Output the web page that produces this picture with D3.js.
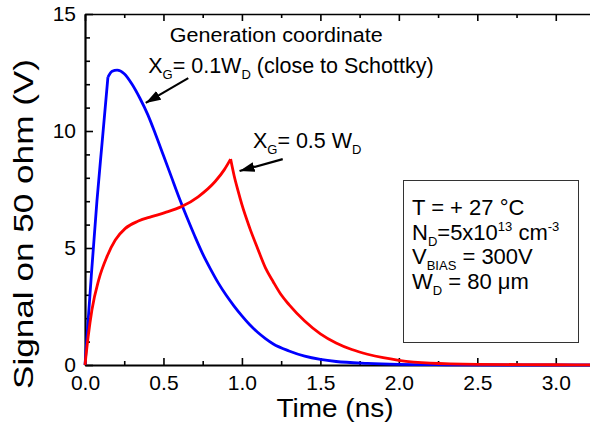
<!DOCTYPE html>
<html>
<head>
<meta charset="utf-8">
<script src="https://cdn.jsdelivr.net/npm/d3@7"></script>
<style>
  body { margin: 0; background: #fff; }
  text { font-family: "Liberation Sans", Arial, sans-serif; }
</style>
</head>
<body>
<script>
// values (time in ns, signal in V)
const blueTime = [0, 0.04, 0.076, 0.109, 0.146, 0.173, 0.205, 0.25, 0.3, 0.35, 0.4, 0.45, 0.5, 0.55, 0.6, 0.65, 0.7, 0.75, 0.8, 0.85, 0.9, 0.95, 1.0, 1.05, 1.1, 1.15, 1.2, 1.3, 1.4, 1.5, 1.6, 1.8, 2.0, 2.3, 2.7, 3.25];
const blueSignal = [0, 3.8, 7.0, 9.5, 12.3, 12.55, 12.6, 12.45, 12.0, 11.4, 10.7, 9.85, 8.95, 8.05, 7.15, 6.3, 5.5, 4.75, 4.1, 3.5, 2.98, 2.52, 2.1, 1.72, 1.4, 1.13, 0.9, 0.6, 0.38, 0.24, 0.15, 0.07, 0.03, 0.01, 0, 0];
const blueKink = 4;

const redTime = [0, 0.02, 0.044, 0.087, 0.14, 0.193, 0.257, 0.34, 0.424, 0.509, 0.616, 0.721, 0.828, 0.888, 0.928, 0.95, 0.975, 1.0, 1.05, 1.1, 1.15, 1.2, 1.25, 1.3, 1.4, 1.5, 1.6, 1.7, 1.8, 1.9, 2.0, 2.2, 2.5, 3.0, 3.25];
const redSignal = [0, 1.2, 2.35, 3.63, 4.63, 5.34, 5.84, 6.15, 6.34, 6.51, 6.77, 7.19, 7.83, 8.35, 8.8, 8.1, 7.45, 6.85, 5.85, 4.98, 4.15, 3.55, 3.0, 2.58, 1.88, 1.33, 0.94, 0.66, 0.46, 0.31, 0.2, 0.08, 0.03, 0.01, 0];
const redPeak = 14;

const xTicks = [0, 0.5, 1, 1.5, 2, 2.5, 3];
const xMinor = [0.25, 0.75, 1.25, 1.75, 2.25, 2.75, 3.25];
const yTicks = [0, 5, 10, 15];
const yMinor = [1, 2, 3, 4, 6, 7, 8, 9, 11, 12, 13, 14];

const legendLines = [
  [["T = + 27 \u00B0C", 0]],
  [["N", 0], ["D", 1], ["=5x10", 0], ["13", -1], [" cm", 0], ["-3", -1]],
  [["V", 0], ["BIAS", 1], [" = 300V", 0]],
  [["W", 0], ["D", 1], [" = 80 \u03BCm", 0]]
];

var W = 590, H = 429;
var svg = d3.select("body").append("svg").attr("width", W).attr("height", H);

var xScale = d3.scaleLinear().domain([0, 3.25]).range([85, 595]);
var yScale = d3.scaleLinear().domain([0, 15]).range([365, 14]);

// minor ticks first, then major axes on top
svg.append("g").attr("transform", "translate(0,365)")
  .call(d3.axisBottom(xScale).tickValues(xMinor).tickSizeInner(-4).tickSizeOuter(0).tickFormat(""))
  .call(g => g.select(".domain").remove());
svg.append("g").attr("transform", "translate(0,14)")
  .call(d3.axisTop(xScale).tickValues(xMinor).tickSizeInner(-4).tickSizeOuter(0).tickFormat(""))
  .call(g => g.select(".domain").remove());
svg.append("g").attr("transform", "translate(85,0)")
  .call(d3.axisLeft(yScale).tickValues(yMinor).tickSizeInner(-5).tickSizeOuter(0).tickFormat(""))
  .call(g => g.select(".domain").remove());

var xAxis = svg.append("g").attr("transform", "translate(0,365)")
  .call(d3.axisBottom(xScale).tickValues(xTicks).tickSizeInner(-7).tickSizeOuter(0)
    .tickPadding(10).tickFormat(d3.format(".1f")));
var topAxis = svg.append("g").attr("transform", "translate(0,14)")
  .call(d3.axisTop(xScale).tickValues(xTicks).tickSizeInner(-7).tickSizeOuter(0).tickFormat(""));
var yAxis = svg.append("g").attr("transform", "translate(85,0)")
  .call(d3.axisLeft(yScale).tickValues(yTicks).tickSizeInner(-8).tickSizeOuter(0).tickPadding(9));

svg.selectAll(".tick line").attr("stroke", "#000").attr("stroke-width", 1.6);
xAxis.select(".domain").attr("stroke-width", 2.2);
yAxis.select(".domain").attr("stroke-width", 2.2);
topAxis.select(".domain").attr("stroke-width", 1.6);
svg.selectAll(".tick text").attr("font-size", 21).attr("fill", "#000")
  .attr("font-family", "Liberation Sans, Arial, sans-serif");

// curves
var line = d3.line()
  .x(d => xScale(d[0]))
  .y(d => yScale(d[1]))
  .curve(d3.curveMonotoneX);

function drawSeries(times, values, brk, color) {
  var pts = times.map((t, i) => [t, values[i]]);
  [pts.slice(0, brk + 1), pts.slice(brk)].forEach(function (seg) {
    svg.append("path")
      .datum(seg)
      .attr("fill", "none")
      .attr("stroke", color)
      .attr("stroke-width", 2.8)
      .attr("stroke-linejoin", "round")
      .attr("d", line);
  });
}
drawSeries(blueTime, blueSignal, blueKink, "#0000ff");
drawSeries(redTime, redSignal, redPeak, "#ff0000");

// axis titles
svg.append("text")
  .attr("x", 335).attr("y", 417)
  .attr("text-anchor", "middle")
  .attr("font-size", 26)
  .attr("textLength", 117).attr("lengthAdjust", "spacingAndGlyphs")
  .text("Time (ns)");

svg.append("text")
  .attr("transform", "translate(33,224) rotate(-90)")
  .attr("text-anchor", "middle")
  .attr("font-size", 28)
  .attr("textLength", 330).attr("lengthAdjust", "spacingAndGlyphs")
  .text("Signal on 50 ohm (V)");

// annotations
svg.append("defs").append("marker")
  .attr("id", "head")
  .attr("markerUnits", "userSpaceOnUse")
  .attr("markerWidth", 16).attr("markerHeight", 12)
  .attr("refX", 15).attr("refY", 5)
  .attr("orient", "auto")
  .append("path").attr("d", "M0,0 L15,5 L0,10 Z").attr("fill", "#000");

var arrows = [
  { from: [0.658, 12.26], to: [0.387, 11.2] },
  { from: [1.26, 8.8], to: [0.985, 8.29] }
];
arrows.forEach(function (a) {
  svg.append("line")
    .attr("x1", xScale(a.from[0])).attr("y1", yScale(a.from[1]))
    .attr("x2", xScale(a.to[0])).attr("y2", yScale(a.to[1]))
    .attr("stroke", "#000").attr("stroke-width", 2.2)
    .attr("marker-end", "url(#head)");
});

svg.append("text")
  .attr("x", xScale(0.54)).attr("y", yScale(13.81))
  .attr("font-size", 20)
  .attr("textLength", 213).attr("lengthAdjust", "spacingAndGlyphs")
  .text("Generation coordinate");

function richText(x, y, parts, size) {
  var t = svg.append("text").attr("x", x).attr("y", y).attr("font-size", size);
  var shift = 0;
  parts.forEach(function (p) {
    var off = p[1] == 1 ? 6 : (p[1] == -1 ? -9 : 0);
    t.append("tspan")
      .attr("dy", off - shift)
      .attr("font-size", p[1] == 0 ? size : Math.round(size * 0.6))
      .text(p[0]);
    shift = off;
  });
  return t;
}

richText(xScale(0.403), yScale(12.48),
  [["X", 0], ["G", 1], ["= 0.1W", 0], ["D", 1], [" (close to Schottky)", 0]], 21.5);
richText(xScale(1.07), yScale(9.27),
  [["X", 0], ["G", 1], ["= 0.5 W", 0], ["D", 1]], 21.5);

// parameter box
svg.append("rect")
  .attr("x", 403.5).attr("y", 180.5)
  .attr("width", 175).attr("height", 162)
  .attr("fill", "#fff").attr("stroke", "#333").attr("stroke-width", 1);

legendLines.forEach(function (parts, i) {
  richText(412, 215 + i * 24.7, parts, 22);
});
</script>
</body>
</html>
